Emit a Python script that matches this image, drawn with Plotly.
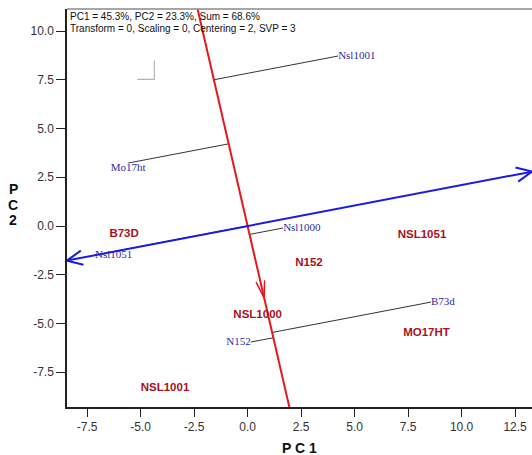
import numpy as np
import plotly.graph_objects as go

header_lines = ["PC1 = 45.3%, PC2 = 23.3%, Sum = 68.6%",
                "Transform = 0, Scaling = 0, Centering = 2, SVP = 3"]

# blue entries (with projection lines onto the red axis)
blue_names = ["Nsl1001", "Mo17ht", "Nsl1000", "Nsl1051", "B73d", "N152"]
blue_x = [4.23, -5.58, 1.66, -7.13, 8.57, 0.15]
blue_y = [8.72, 3.23, -0.10, -1.49, -3.90, -5.95]
blue_pos = ["middle right", "bottom center", "middle right", "middle right",
            "middle right", "middle left"]

# red entries
red_names = ["B73D", "NSL1051", "N152", "NSL1000", "MO17HT", "NSL1001"]
red_x = [-5.77, 8.15, 2.87, 0.47, 8.36, -3.86]
red_y = [-0.41, -0.46, -1.90, -4.56, -5.49, -8.31]

axis_slope = 0.21      # slope of the blue axis (through origin)
red_arrow_y = -3.7     # where the arrow sits on the red axis

corner_x = [-5.15, -4.36, -4.36]
corner_y = [7.52, 7.52, 8.49]

x_range = [-8.44, 13.29]
y_range = [-9.28, 11.13]
x_ticks = [-7.5, -5.0, -2.5, 0.0, 2.5, 5.0, 7.5, 10.0, 12.5]
y_ticks = [-7.5, -5.0, -2.5, 0.0, 2.5, 5.0, 7.5, 10.0]

W, H = 532, 455
ML, MR, MT, MB = 67, 0, 9, 48
kx = (W - ML - MR) / (x_range[1] - x_range[0])
ky = (H - MT - MB) / (y_range[1] - y_range[0])

RED = "#e3191c"
BLUE = "#1a1ae6"


def arrowhead(tx, ty, dx, dy, length, half):
    # dx, dy: direction in data units; computed in pixel space
    px, py = dx * kx, dy * ky
    ang = np.arctan2(py, px)
    a1 = ang + np.pi + half
    a2 = ang + np.pi - half
    xs = [tx + length * np.cos(a1) / kx, tx, tx + length * np.cos(a2) / kx]
    ys = [ty + length * np.sin(a1) / ky, ty, ty + length * np.sin(a2) / ky]
    return xs, ys


fig = go.Figure()

# projection lines (parallel to blue axis) from blue points to red axis
v = np.array([-axis_slope, 1.0])
v = v / np.linalg.norm(v)
px_, py_ = [], []
for bx, by in zip(blue_x, blue_y):
    d = bx * v[0] + by * v[1]
    px_ += [bx, d * v[0], None]
    py_ += [by, d * v[1], None]
fig.add_trace(go.Scatter(x=px_, y=py_, mode="lines",
                         line=dict(color="#333333", width=1),
                         hoverinfo="skip", showlegend=False))

# gray corner mark
fig.add_trace(go.Scatter(x=corner_x, y=corner_y, mode="lines",
                         line=dict(color="#b5b5ad", width=1.2),
                         hoverinfo="skip", showlegend=False))

# red axis (perpendicular to blue axis)
ry = np.array(y_range)
rx = -axis_slope * ry
fig.add_trace(go.Scatter(x=rx, y=ry, mode="lines",
                         line=dict(color=RED, width=2),
                         hoverinfo="skip", showlegend=False))
ax_, ay_ = arrowhead(-axis_slope * red_arrow_y, red_arrow_y,
                     axis_slope, -1.0, 18, np.radians(14))
fig.add_trace(go.Scatter(x=ax_, y=ay_, mode="lines",
                         line=dict(color=RED, width=1.5),
                         hoverinfo="skip", showlegend=False))

# blue axis with arrows at both ends
bxs = np.array(x_range)
bys = axis_slope * bxs
fig.add_trace(go.Scatter(x=bxs, y=bys, mode="lines",
                         line=dict(color=BLUE, width=2),
                         hoverinfo="skip", showlegend=False))
for sgn, (tx, ty) in zip([-1, 1], zip(bxs, bys)):
    hx, hy = arrowhead(tx, ty, sgn * 1.0, sgn * axis_slope, 17, np.radians(25))
    fig.add_trace(go.Scatter(x=hx, y=hy, mode="lines",
                             line=dict(color=BLUE, width=2),
                             hoverinfo="skip", showlegend=False))

# blue labels
fig.add_trace(go.Scatter(x=blue_x, y=blue_y, mode="text", text=blue_names,
                         textposition=blue_pos,
                         textfont=dict(family="Liberation Serif, Times New Roman",
                                       size=11, color="#2c2ca0"),
                         hoverinfo="skip", showlegend=False))

# red labels
fig.add_trace(go.Scatter(x=red_x, y=red_y, mode="text", text=red_names,
                         textposition="middle center",
                         textfont=dict(family="Liberation Sans, Arial",
                                       size=11.5, color="#a8121e",
                                       weight="bold"),
                         hoverinfo="skip", showlegend=False))

PH = H - MT - MB
title_font = dict(family="Liberation Sans, Arial", size=14, color="#111111")
annotations = [
    dict(text=header_lines[0], x=0, y=(H - MB - 17) / PH, xref="paper", yref="paper",
         xanchor="left", yanchor="middle", xshift=1, showarrow=False,
         font=dict(family="Liberation Sans, Arial", size=10, color="#111111")),
    dict(text=header_lines[1], x=0, y=(H - MB - 28) / PH, xref="paper", yref="paper",
         xanchor="left", yanchor="middle", xshift=1, showarrow=False,
         font=dict(family="Liberation Sans, Arial", size=10, color="#111111")),
    dict(text="<b>P C 1</b>", x=0.5, y=-(448 - (H - MB)) / PH, xref="paper", yref="paper",
         xanchor="center", yanchor="middle", showarrow=False, font=title_font),
]
for ch, py in zip("PC2", [189, 205, 220]):
    annotations.append(dict(text=f"<b>{ch}</b>", x=(13 - ML) / (W - ML - MR),
                            y=((H - MB) - py) / PH, xref="paper", yref="paper",
                            xanchor="center", yanchor="middle", showarrow=False,
                            font=title_font))

fig.update_layout(
    width=W, height=H,
    margin=dict(l=ML, r=MR, t=MT, b=MB, pad=0),
    paper_bgcolor="white", plot_bgcolor="white",
    annotations=annotations,
    shapes=[dict(type="line", xref="paper", yref="paper", x0=0, x1=1, y0=1, y1=1,
                 line=dict(color="#8a8a8a", width=1.5))],
)
fig.update_xaxes(range=x_range, tickvals=x_ticks, ticktext=[f"{t:.1f}" for t in x_ticks],
                 showgrid=False, zeroline=False, showline=True, linecolor="#222222",
                 linewidth=1.5, ticks="outside", ticklen=8, tickcolor="#222222",
                 tickfont=dict(family="Liberation Sans, Arial", size=12, color="#333333"))
fig.update_yaxes(range=y_range, tickvals=y_ticks, ticktext=[f"{t:.1f}" for t in y_ticks],
                 showgrid=False, zeroline=False, showline=True, linecolor="#222222",
                 linewidth=1.5, ticks="outside", ticklen=9, tickcolor="#222222",
                 tickfont=dict(family="Liberation Sans, Arial", size=12, color="#333333"))

fig.write_html("out.html", config={"displayModeBar": False},
               post_script="document.body.style.margin='0';document.body.style.overflow='hidden';")
